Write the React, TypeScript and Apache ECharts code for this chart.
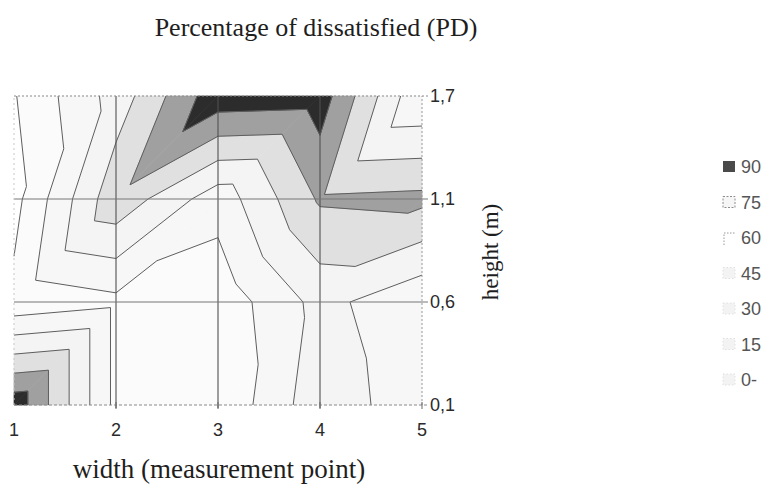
import { useEffect, useRef } from "react";
import * as echarts from "echarts";

// width positions (measurement points) and heights (m)
const widthPoints = ["1", "2", "3", "4", "5"];
const heightLabels = ["0,1", "0,6", "1,1", "1,7"];

// PD values per height row (columns = width 1..5)
const pdAt01 = [100, 26, 17, 55, 35];
const pdAt06 = [19, 26, 20, 50, 33];
const pdAt11 = [10, 71, 36, 77, 79];
const pdAt17 = [14, 51, 100, 98, 31];

// contour class limits and legend labels
const levels = [0, 15, 30, 45, 60, 75, 90];
const legendLabels = ["90", "75", "60", "45", "30", "15", "0-"];

const bandFill = ["#ffffff", "#fbfbfb", "#f7f7f7", "#f4f4f4", "#e0e0e0", "#a0a0a0", "#2c2c2c"];

type P = { x: number; y: number; v: number };

function clip(poly: P[], level: number, keepAbove: boolean): P[] {
  const out: P[] = [];
  const n = poly.length;
  for (let k = 0; k < n; k++) {
    const a = poly[k];
    const b = poly[(k + 1) % n];
    const ia = keepAbove ? a.v >= level : a.v <= level;
    const ib = keepAbove ? b.v >= level : b.v <= level;
    if (ia) out.push(a);
    if (ia !== ib) {
      const t = (level - a.v) / (b.v - a.v);
      out.push({ x: a.x + t * (b.x - a.x), y: a.y + t * (b.y - a.y), v: level });
    }
  }
  return out;
}

export default function App() {
  const ref = useRef<HTMLDivElement>(null);

  useEffect(() => {
    const chart = echarts.init(ref.current!, null, { renderer: "svg" });
    const rows = [pdAt01, pdAt06, pdAt11, pdAt17];
    const nx = widthPoints.length;
    const ny = heightLabels.length;

    const renderItem = (_params: any, api: any) => {
      const px = widthPoints.map((_, i) => api.coord([i, 0])[0]);
      const py = heightLabels.map((_, j) => api.coord([0, j])[1]);
      const fills: any[] = [];
      const lines: any[] = [];
      const grid: any[] = [];
      for (let j = 0; j < ny - 1; j++) {
        for (let i = 0; i < nx - 1; i++) {
          const BL = { x: px[i], y: py[j], v: rows[j][i] };
          const BR = { x: px[i + 1], y: py[j], v: rows[j][i + 1] };
          const TL = { x: px[i], y: py[j + 1], v: rows[j + 1][i] };
          const TR = { x: px[i + 1], y: py[j + 1], v: rows[j + 1][i + 1] };
          const tris = [
            [BL, BR, TR],
            [BL, TR, TL],
          ];
          for (const tri of tris) {
            for (let b = 0; b < levels.length; b++) {
              const lo = levels[b];
              const hi = b + 1 < levels.length ? levels[b + 1] : 1000;
              let poly = clip(tri, lo, true);
              if (poly.length >= 3) poly = clip(poly, hi, false);
              if (poly.length >= 3) {
                fills.push({
                  type: "polygon",
                  shape: { points: poly.map((p) => [p.x, p.y]) },
                  style: { fill: bandFill[b], stroke: bandFill[b], lineWidth: 0.7 },
                  silent: true,
                });
              }
            }
            for (let b = 1; b < levels.length; b++) {
              const L = levels[b];
              const pts: number[][] = [];
              for (let k = 0; k < 3; k++) {
                const a = tri[k];
                const c = tri[(k + 1) % 3];
                if ((a.v - L) * (c.v - L) < 0) {
                  const t = (L - a.v) / (c.v - a.v);
                  pts.push([a.x + t * (c.x - a.x), a.y + t * (c.y - a.y)]);
                }
              }
              if (pts.length === 2) {
                lines.push({
                  type: "line",
                  shape: { x1: pts[0][0], y1: pts[0][1], x2: pts[1][0], y2: pts[1][1] },
                  style: { stroke: "#5e5e5e", lineWidth: 1 },
                  silent: true,
                });
              }
            }
          }
        }
      }
      // inner vertical grid lines
      for (let i = 1; i < nx - 1; i++) {
        grid.push({
          type: "line",
          shape: { x1: px[i], y1: py[0] + 3, x2: px[i], y2: py[ny - 1] },
          style: { stroke: "#505050", lineWidth: 1.1 },
          silent: true,
        });
      }
      // inner horizontal grid lines (extend as ticks)
      for (let j = 1; j < ny - 1; j++) {
        grid.push({
          type: "line",
          shape: { x1: px[0], y1: py[j], x2: px[nx - 1] + 6, y2: py[j] },
          style: { stroke: "#777", lineWidth: 1 },
          silent: true,
        });
      }
      // borders (dotted)
      grid.push({
        type: "line",
        shape: { x1: px[0], y1: py[ny - 1], x2: px[nx - 1] + 6, y2: py[ny - 1] },
        style: { stroke: "#8a8a8a", lineWidth: 1, lineDash: [2, 2] },
        silent: true,
      });
      grid.push({
        type: "line",
        shape: { x1: px[0], y1: py[0], x2: px[nx - 1] + 6, y2: py[0] },
        style: { stroke: "#8a8a8a", lineWidth: 1, lineDash: [3, 2] },
        silent: true,
      });
      grid.push({
        type: "line",
        shape: { x1: px[nx - 1], y1: py[0], x2: px[nx - 1], y2: py[ny - 1] },
        style: { stroke: "#9a9a9a", lineWidth: 1, lineDash: [2, 2] },
        silent: true,
      });
      grid.push({
        type: "line",
        shape: { x1: px[0], y1: py[0], x2: px[0], y2: py[ny - 1] },
        style: { stroke: "#c8c8c8", lineWidth: 1, lineDash: [2, 3] },
        silent: true,
      });
      for (let i = 1; i < nx; i++) {
        grid.push({
          type: "line",
          shape: { x1: px[i], y1: py[0] - 3, x2: px[i], y2: py[0] + 4 },
          style: { stroke: "#666", lineWidth: 1 },
          silent: true,
        });
      }
      return { type: "group", children: [...fills, ...lines, ...grid] };
    };

    const legendGraphics: any[] = [];
    legendLabels.forEach((lab, k) => {
      const y = 167 + k * 35.5;
      let sym: any;
      if (k === 0) {
        sym = { type: "rect", shape: { x: 723, y: y - 6, width: 12, height: 11 }, style: { fill: "#4a4a4a" } };
      } else if (k === 1) {
        sym = {
          type: "rect",
          shape: { x: 723, y: y - 6, width: 12, height: 11 },
          style: { fill: "#f6f6f6", stroke: "#8c8c8c", lineWidth: 1, lineDash: [2, 1.5] },
        };
      } else if (k === 2) {
        sym = {
          type: "polyline",
          shape: { points: [[724, y + 7], [724, y - 5], [736, y - 5]] },
          style: { fill: "none", stroke: "#999", lineWidth: 1, lineDash: [1.5, 1.5] },
        };
      } else {
        sym = {
          type: "rect",
          shape: { x: 723, y: y - 6, width: 12, height: 11 },
          style: { fill: "#f3f3f3", stroke: "#e0e0e0", lineWidth: 1, lineDash: [1.5, 2] },
        };
      }
      legendGraphics.push(sym);
      legendGraphics.push({
        type: "text",
        x: 741,
        y,
        style: {
          text: lab,
          fill: "#555",
          font: '18px "Liberation Sans", Arial, sans-serif',
          verticalAlign: "middle",
          align: "left",
        },
      });
    });

    chart.setOption({
      animation: false,
      backgroundColor: "#ffffff",
      grid: { left: 14, right: 347, top: 96, bottom: 83, containLabel: false },
      xAxis: {
        type: "category",
        data: widthPoints,
        boundaryGap: false,
        axisLine: { show: false },
        axisTick: { show: false },
        splitLine: { show: false },
        axisLabel: {
          color: "#2a2a2a",
          fontSize: 18,
          fontFamily: '"Liberation Sans", Arial, sans-serif',
          margin: 16,
        },
      },
      yAxis: {
        type: "category",
        position: "right",
        data: heightLabels,
        boundaryGap: false,
        axisLine: { show: false },
        axisTick: { show: false },
        splitLine: { show: false },
        axisLabel: {
          color: "#2a2a2a",
          fontSize: 18,
          fontFamily: '"Liberation Sans", Arial, sans-serif',
          margin: 8,
        },
      },
      graphic: [
        {
          type: "text",
          x: 316,
          y: 27,
          style: {
            text: "Percentage of dissatisfied (PD)",
            fill: "#1e1e1e",
            font: '26px "Liberation Serif", "Times New Roman", serif',
            align: "center",
            verticalAlign: "middle",
          },
        },
        {
          type: "text",
          x: 219,
          y: 469,
          style: {
            text: "width (measurement point)",
            fill: "#1e1e1e",
            font: '27px "Liberation Serif", "Times New Roman", serif',
            align: "center",
            verticalAlign: "middle",
          },
        },
        {
          type: "text",
          x: 490,
          y: 252,
          rotation: Math.PI / 2,
          style: {
            text: "height (m)",
            fill: "#1e1e1e",
            font: '23px "Liberation Serif", "Times New Roman", serif',
            align: "center",
            verticalAlign: "middle",
          },
        },
        ...legendGraphics,
      ],
      series: [
        {
          type: "custom",
          coordinateSystem: "cartesian2d",
          renderItem,
          data: [[0, 0]],
          silent: true,
        },
      ],
    });

    return () => chart.dispose();
  }, []);

  return (
    <div
      ref={ref}
      style={{ position: "fixed", left: 0, top: 0, width: 769, height: 488, background: "#fff" }}
    />
  );
}
